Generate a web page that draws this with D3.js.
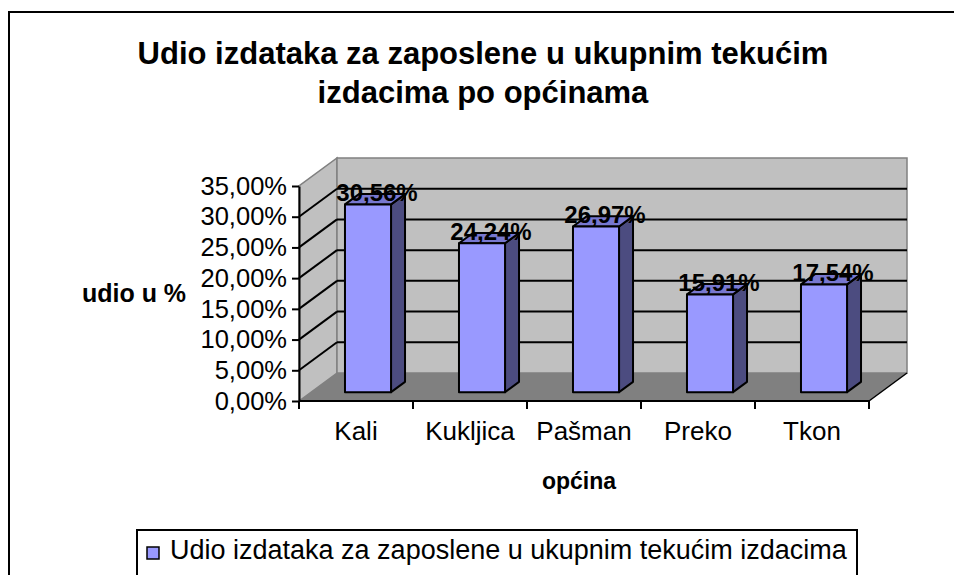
<!DOCTYPE html>
<html>
<head>
<meta charset="utf-8">
<script src="https://cdn.jsdelivr.net/npm/d3@7"></script>
<style>
  html, body { margin: 0; padding: 0; background: #fff; }
  svg { display: block; font-family: "Liberation Sans", Arial, sans-serif; }
</style>
</head>
<body>
<svg id="chart" width="954" height="575"></svg>
<script>
// chart data
const categories = ["Kali", "Kukljica", "Pašman", "Preko", "Tkon"];
const values = [30.56, 24.24, 26.97, 15.91, 17.54];
const yTicks = [0, 5, 10, 15, 20, 25, 30, 35];
const titleLines = ["Udio izdataka za zaposlene u ukupnim tekućim", "izdacima po općinama"];
const seriesName = "Udio izdataka za zaposlene u ukupnim tekućim izdacima";
const yTitle = "udio u %";
const xTitle = "općina";

const svg = d3.select("#chart");
const pct = (v) => d3.format(".2f")(v).replace(".", ",") + "%";

// plot frame (front plane) and 3D depth offset
const plotL = 299, plotR = 869, plotB = 401, plotT = 186;
const DX = 38, DY = -28;
const f0 = 0.316, f1 = 0.684; // bar depth position as fraction of the floor depth

const x = d3.scaleBand().domain(categories).range([plotL, plotR])
  .paddingInner(0.596).paddingOuter(0.298);
const xEdge = d3.scaleLinear().domain([0, categories.length]).range([plotL, plotR]);
const y = d3.scaleLinear().domain([0, 35]).range([plotB, plotT]);

// outer chart border
svg.append("rect").attr("x", 9).attr("y", 12).attr("width", 980).attr("height", 600)
  .attr("fill", "#fff").attr("stroke", "#000").attr("stroke-width", 2);

// title
svg.append("text").attr("text-anchor", "middle").attr("font-weight", "bold").attr("font-size", 31)
  .selectAll("tspan").data(titleLines).join("tspan")
  .attr("x", 483).attr("y", (d, i) => 64 + i * 39).text((d) => d);

// walls and floor
const yMax = y(35), y0 = y(0);
const pts = (a) => a.map((p) => p.join(",")).join(" ");
svg.append("polygon")
  .attr("points", pts([[plotL, y0], [plotL, yMax], [plotL + DX, yMax + DY], [plotL + DX, y0 + DY]]))
  .attr("fill", "#c0c0c0").attr("stroke", "#808080").attr("stroke-width", 1.5);
svg.append("polygon")
  .attr("points", pts([[plotL + DX, yMax + DY], [plotR + DX, yMax + DY], [plotR + DX, y0 + DY], [plotL + DX, y0 + DY]]))
  .attr("fill", "#c0c0c0").attr("stroke", "#808080").attr("stroke-width", 1.5);
svg.append("polygon")
  .attr("points", pts([[plotL, y0], [plotR, y0], [plotR + DX, y0 + DY], [plotL + DX, y0 + DY]]))
  .attr("fill", "#808080").attr("stroke", "none");
svg.append("line").attr("x1", plotR).attr("y1", y0).attr("x2", plotR + DX).attr("y2", y0 + DY)
  .attr("stroke", "#000").attr("stroke-width", 1.5);

// gridlines on side and back wall
const grid = yTicks.filter((t) => t > 0 && t < 35);
const gGrid = svg.append("g").attr("stroke", "#000").attr("stroke-width", 2);
gGrid.selectAll("line.side").data(grid).join("line").attr("class", "side")
  .attr("x1", plotL).attr("y1", (d) => y(d)).attr("x2", plotL + DX).attr("y2", (d) => y(d) + DY);
gGrid.selectAll("line.back").data(grid).join("line").attr("class", "back")
  .attr("x1", plotL + DX).attr("y1", (d) => y(d) + DY).attr("x2", plotR + DX).attr("y2", (d) => y(d) + DY);

// y axis
const yAxis = svg.append("g").attr("transform", `translate(${plotL},0)`)
  .call(d3.axisLeft(y).tickValues(yTicks).tickFormat(pct).tickSize(7).tickSizeOuter(0).tickPadding(5));
yAxis.select(".domain").attr("stroke-width", 2);
yAxis.selectAll(".tick line").attr("stroke-width", 2);
yAxis.selectAll(".tick text").attr("font-size", 25.5).attr("fill", "#000")
  .attr("font-family", "Liberation Sans, Arial, sans-serif");

// x axis: baseline, ticks at category edges, centred labels
const gx = svg.append("g");
gx.append("line").attr("x1", plotL).attr("x2", plotR).attr("y1", plotB).attr("y2", plotB)
  .attr("stroke", "#000").attr("stroke-width", 2);
gx.selectAll("line.tick").data(d3.range(categories.length + 1)).join("line").attr("class", "tick")
  .attr("x1", (d) => xEdge(d)).attr("x2", (d) => xEdge(d)).attr("y1", plotB).attr("y2", plotB + 8)
  .attr("stroke", "#000").attr("stroke-width", 2);
gx.selectAll("text").data(categories).join("text")
  .attr("x", (d) => x(d) + x.bandwidth() / 2)
  .attr("y", 440).attr("text-anchor", "middle").attr("font-size", 26).text((d) => d);

// 3D bars
const data = categories.map((c, i) => ({ cat: c, value: values[i] }));
const bw = x.bandwidth();
const ox = DX * f0, oy = DY * f0, dx = DX * (f1 - f0), dy = DY * (f1 - f0);
const bars = svg.append("g").selectAll("g").data(data).join("g")
  .attr("stroke", "#000").attr("stroke-width", 2).attr("stroke-linejoin", "round");
bars.append("polygon") // side
  .attr("fill", "#4c4c80")
  .attr("points", (d) => {
    const x1 = x(d.cat) + bw + ox, yt = y(d.value) + oy, yb = y(0) + oy;
    return pts([[x1, yt], [x1 + dx, yt + dy], [x1 + dx, yb + dy], [x1, yb]]);
  });
bars.append("polygon") // top
  .attr("fill", "#7878d0")
  .attr("points", (d) => {
    const x0 = x(d.cat) + ox, yt = y(d.value) + oy;
    return pts([[x0, yt], [x0 + bw, yt], [x0 + bw + dx, yt + dy], [x0 + dx, yt + dy]]);
  });
bars.append("rect") // front
  .attr("fill", "#9999ff")
  .attr("x", (d) => x(d.cat) + ox).attr("y", (d) => y(d.value) + oy)
  .attr("width", bw).attr("height", (d) => y(0) - y(d.value));

// value labels
svg.append("g").selectAll("text").data(data).join("text")
  .attr("x", (d) => x(d.cat) + ox + bw / 2 + dx / 2 + 2)
  .attr("y", (d) => y(d.value) + oy + dy / 2 + 2)
  .attr("text-anchor", "middle").attr("font-weight", "bold").attr("font-size", 24)
  .text((d) => pct(d.value));

// axis titles
svg.append("text").attr("x", 134).attr("y", 302).attr("text-anchor", "middle")
  .attr("font-weight", "bold").attr("font-size", 25).text(yTitle);
svg.append("text").attr("x", 579).attr("y", 489).attr("text-anchor", "middle")
  .attr("font-weight", "bold").attr("font-size", 23).text(xTitle);

// legend
const lg = svg.append("g");
lg.append("rect").attr("x", 137).attr("y", 530).attr("width", 720).attr("height", 80)
  .attr("fill", "#fff").attr("stroke", "#000").attr("stroke-width", 2);
lg.append("rect").attr("x", 147).attr("y", 547).attr("width", 12).attr("height", 12)
  .attr("fill", "#9999ff").attr("stroke", "#000").attr("stroke-width", 1.5);
lg.append("text").attr("x", 170).attr("y", 559).attr("font-size", 27).text(seriesName);
</script>
</body>
</html>
